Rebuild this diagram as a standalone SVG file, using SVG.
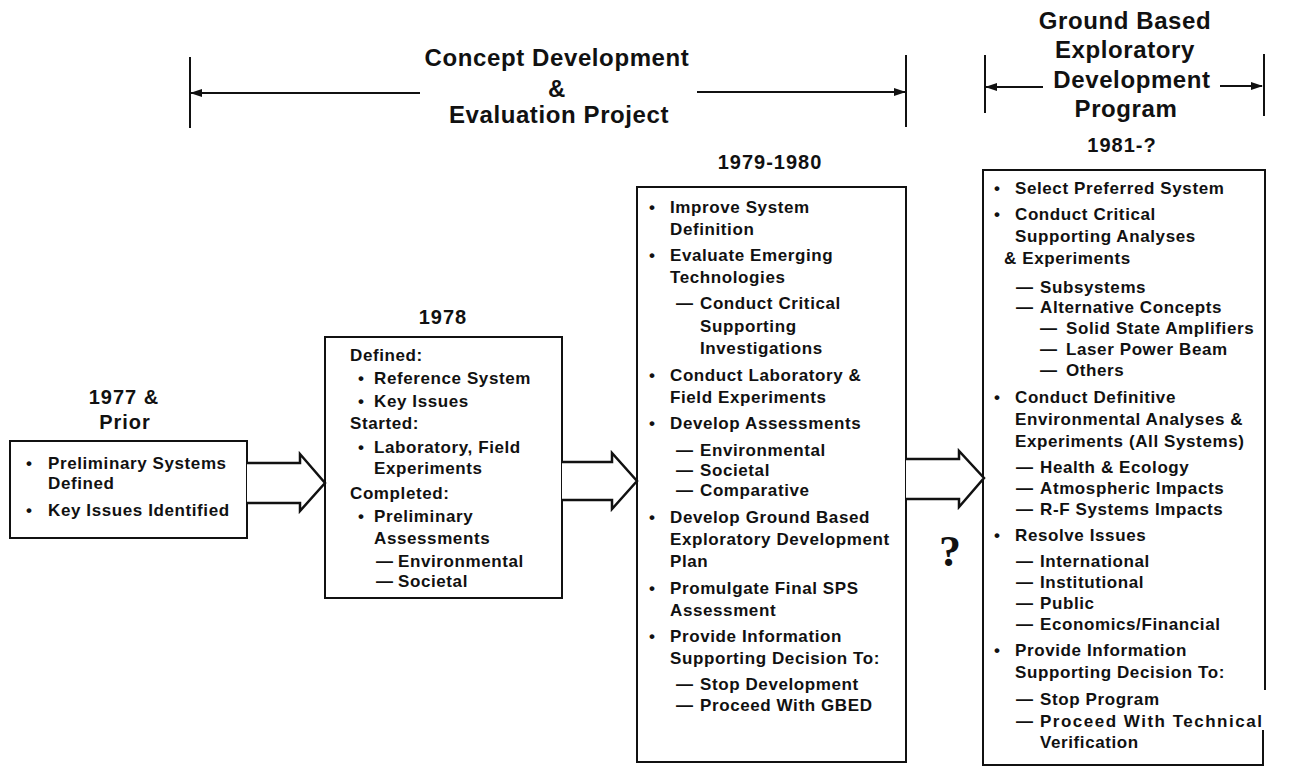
<svg xmlns="http://www.w3.org/2000/svg" width="1290" height="779" viewBox="0 0 1290 779">
<defs>
<style>
.t{font-family:"Liberation Sans",Arial,Helvetica,sans-serif;font-weight:bold;font-size:17px;fill:#111;letter-spacing:0.6px}
.h{font-size:24px;letter-spacing:0.6px;text-anchor:middle}
.y{font-size:20px;letter-spacing:1px;text-anchor:middle}
.box{fill:none;stroke:#111;stroke-width:2}
.blk{fill:#fff;stroke:#111;stroke-width:2.5;stroke-linejoin:miter}
.ln{fill:none;stroke:#111;stroke-width:2}
.q{font-family:"Liberation Serif","Times New Roman",serif;font-weight:bold;font-size:44px;fill:#111;text-anchor:middle}
</style>
<marker id="ah" markerUnits="userSpaceOnUse" markerWidth="12" markerHeight="8" refX="11" refY="4" orient="auto">
<path d="M0,0 L12,4 L0,8 Z" fill="#111"/>
</marker>
</defs>
<rect width="1290" height="779" fill="#fff"/>

<g id="header-concept">
<text class="t h" x="557" y="66">Concept Development</text>
<text class="t h" x="557" y="97">&amp;</text>
<text class="t h" x="559" y="123">Evaluation Project</text>
<line class="ln" x1="190" y1="57" x2="190" y2="128"/>
<line class="ln" x1="420" y1="93" x2="191" y2="93" marker-end="url(#ah)"/>
<line class="ln" x1="697" y1="92" x2="905" y2="92" marker-end="url(#ah)"/>
<line class="ln" x1="906" y1="55" x2="906" y2="127"/>
</g>

<g id="header-gbed">
<text class="t h" x="1125" y="29">Ground Based</text>
<text class="t h" x="1125" y="58">Exploratory</text>
<text class="t h" x="1132" y="88">Development</text>
<text class="t h" x="1126" y="117">Program</text>
<line class="ln" x1="985" y1="55" x2="985" y2="113"/>
<line class="ln" x1="1043" y1="87" x2="986" y2="87" marker-end="url(#ah)"/>
<line class="ln" x1="1220" y1="86" x2="1262" y2="86" marker-end="url(#ah)"/>
<line class="ln" x1="1264" y1="54" x2="1264" y2="116"/>
</g>

<g id="node-1977">
<text class="t y" x="124" y="404">1977 &amp;</text>
<text class="t y" x="125" y="429">Prior</text>
<rect class="box" x="10" y="441" width="237" height="97"/>
<text class="t" x="26" y="469">•</text><text class="t" x="48" y="469">Preliminary Systems</text>
<text class="t" x="48" y="489">Defined</text>
<text class="t" x="26" y="516">•</text><text class="t" x="48" y="516">Key Issues Identified</text>
</g>

<g id="node-1978">
<text class="t y" x="443" y="324">1978</text>
<rect class="box" x="325" y="337" width="237" height="261"/>
<text class="t" x="350" y="361">Defined:</text>
<text class="t" x="358" y="384">•</text><text class="t" x="374" y="384">Reference System</text>
<text class="t" x="358" y="407">•</text><text class="t" x="374" y="407">Key Issues</text>
<text class="t" x="350" y="429">Started:</text>
<text class="t" x="358" y="453">•</text><text class="t" x="374" y="453">Laboratory, Field</text>
<text class="t" x="374" y="474">Experiments</text>
<text class="t" x="350" y="499">Completed:</text>
<text class="t" x="358" y="522">•</text><text class="t" x="374" y="522">Preliminary</text>
<text class="t" x="374" y="544">Assessments</text>
<text class="t" x="376" y="567">—</text><text class="t" x="398" y="567">Environmental</text>
<text class="t" x="376" y="587">—</text><text class="t" x="398" y="587">Societal</text>
</g>

<g id="node-1979">
<text class="t y" x="770" y="169">1979-1980</text>
<rect class="box" x="637" y="187" width="269" height="575"/>
<text class="t" x="649" y="213">•</text><text class="t" x="670" y="213">Improve System</text>
<text class="t" x="670" y="235">Definition</text>
<text class="t" x="649" y="261">•</text><text class="t" x="670" y="261">Evaluate Emerging</text>
<text class="t" x="670" y="283">Technologies</text>
<text class="t" x="676" y="309">—</text><text class="t" x="700" y="309">Conduct Critical</text>
<text class="t" x="700" y="332">Supporting</text>
<text class="t" x="700" y="354">Investigations</text>
<text class="t" x="649" y="381">•</text><text class="t" x="670" y="381">Conduct Laboratory &amp;</text>
<text class="t" x="670" y="403">Field Experiments</text>
<text class="t" x="649" y="429">•</text><text class="t" x="670" y="429">Develop Assessments</text>
<text class="t" x="676" y="456">—</text><text class="t" x="700" y="456">Environmental</text>
<text class="t" x="676" y="476">—</text><text class="t" x="700" y="476">Societal</text>
<text class="t" x="676" y="496">—</text><text class="t" x="700" y="496">Comparative</text>
<text class="t" x="649" y="523">•</text><text class="t" x="670" y="523">Develop Ground Based</text>
<text class="t" x="670" y="545">Exploratory Development</text>
<text class="t" x="670" y="567">Plan</text>
<text class="t" x="649" y="594">•</text><text class="t" x="670" y="594">Promulgate Final SPS</text>
<text class="t" x="670" y="616">Assessment</text>
<text class="t" x="649" y="642">•</text><text class="t" x="670" y="642">Provide Information</text>
<text class="t" x="670" y="664">Supporting Decision To:</text>
<text class="t" x="676" y="690">—</text><text class="t" x="700" y="690">Stop Development</text>
<text class="t" x="676" y="711">—</text><text class="t" x="700" y="711">Proceed With GBED</text>
</g>

<g id="node-1981">
<text class="t y" x="1122" y="152">1981-?</text>
<path class="box" d="M1265,690 V170 H983 V765 H1263 V730"/>
<text class="t" x="994" y="194">•</text><text class="t" x="1015" y="194">Select Preferred System</text>
<text class="t" x="994" y="220">•</text><text class="t" x="1015" y="220">Conduct Critical</text>
<text class="t" x="1015" y="242">Supporting Analyses</text>
<text class="t" x="1004" y="264">&amp; Experiments</text>
<text class="t" x="1016" y="293">—</text><text class="t" x="1040" y="293">Subsystems</text>
<text class="t" x="1016" y="313">—</text><text class="t" x="1040" y="313">Alternative Concepts</text>
<text class="t" x="1040" y="334">—</text><text class="t" x="1066" y="334">Solid State Amplifiers</text>
<text class="t" x="1040" y="355">—</text><text class="t" x="1066" y="355">Laser Power Beam</text>
<text class="t" x="1040" y="376">—</text><text class="t" x="1066" y="376">Others</text>
<text class="t" x="994" y="403">•</text><text class="t" x="1015" y="403">Conduct Definitive</text>
<text class="t" x="1015" y="425">Environmental Analyses &amp;</text>
<text class="t" x="1015" y="447">Experiments (All Systems)</text>
<text class="t" x="1016" y="473">—</text><text class="t" x="1040" y="473">Health &amp; Ecology</text>
<text class="t" x="1016" y="494">—</text><text class="t" x="1040" y="494">Atmospheric Impacts</text>
<text class="t" x="1016" y="515">—</text><text class="t" x="1040" y="515">R-F Systems Impacts</text>
<text class="t" x="994" y="541">•</text><text class="t" x="1015" y="541">Resolve Issues</text>
<text class="t" x="1016" y="567">—</text><text class="t" x="1040" y="567">International</text>
<text class="t" x="1016" y="588">—</text><text class="t" x="1040" y="588">Institutional</text>
<text class="t" x="1016" y="609">—</text><text class="t" x="1040" y="609">Public</text>
<text class="t" x="1016" y="630">—</text><text class="t" x="1040" y="630">Economics/Financial</text>
<text class="t" x="994" y="656">•</text><text class="t" x="1015" y="656">Provide Information</text>
<text class="t" x="1015" y="678">Supporting Decision To:</text>
<text class="t" x="1016" y="705">—</text><text class="t" x="1040" y="705">Stop Program</text>
<text class="t" x="1016" y="727">—</text><text class="t" x="1040" y="727" style="letter-spacing:1.5px">Proceed With Technical</text>
<text class="t" x="1040" y="748">Verification</text>
</g>

<g id="connectors">
<path class="blk" d="M247,463 H300 V454 L325,483 L300,511 V503 H247"/>
<path class="blk" d="M562,462 H612 V453 L637,481 L612,509 V500 H562"/>
<path class="blk" d="M906,459 H959 V451 L984,478 L959,507 V499 H906"/>
</g>

<g id="question">
<text class="q" x="950" y="566">?</text>
</g>
</svg>
